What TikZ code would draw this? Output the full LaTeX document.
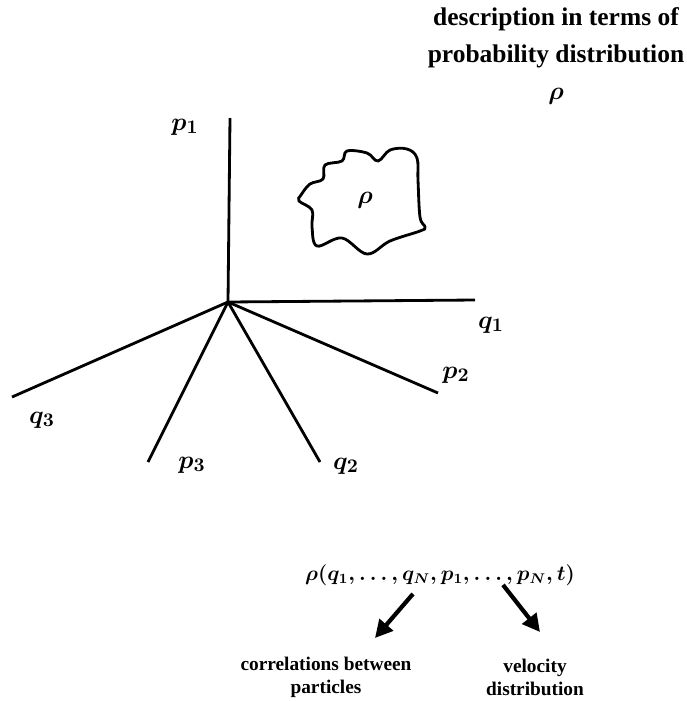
\documentclass[tikz,border=0pt]{standalone}
\usepackage{amsmath}
\usepackage{fontspec}
\setmainfont{Liberation Serif}
\usetikzlibrary{calc, arrows.meta}

\tikzset{
  axis/.style={line width=1.6pt},
  axislabel/.style={font=\fontsize{15}{15}\selectfont\boldmath, inner sep=1pt},
  bigarrow/.style={line width=2.4pt, -{Triangle[length=10pt,width=10pt]}},
  caption/.style={font=\bfseries\fontsize{11}{13}\selectfont, align=center, inner sep=0pt},
}

\begin{document}
\begin{tikzpicture}[x=0.02cm,y=-0.02cm]
\useasboundingbox (0,0) rectangle (687,701);

% heading
\node[font=\bfseries\boldmath\fontsize{14.5}{21.3}\selectfont, align=center, inner sep=0pt]
  (title) at (556,56) {description in terms of\\probability distribution\\$\rho$};

% phase space axes
\coordinate (O) at (228,302);
\foreach \name/\pos in {p1/{230,118}, q1/{475,300}, p2/{438,393},
                        q3/{12,397}, p3/{148,462}, q2/{320,462}} {
  \coordinate (\name) at (\pos);
  \draw[axis] (O) -- (\name);
}
\node[axislabel] (lp1) at (185,127) {$p_1$};
\node[axislabel] (lq1) at (491,325) {$q_1$};
\node[axislabel] (lp2) at (456,375) {$p_2$};
\node[axislabel] (lq3) at (42,420) {$q_3$};
\node[axislabel] (lp3) at (192,465) {$p_3$};
\node[axislabel] (lq2) at (346,466) {$q_2$};

% the cloud
\draw[line width=1.6pt] plot[smooth cycle, tension=0.6] coordinates {
  (301,195) (310,184) (323,179) (325,165) (342,161) (347,151) (367,153)
  (378,161) (390,150) (407,149) (417,158) (418,180) (420,217) (425,227)
  (420,231) (390,241) (367,254) (342,238) (317,246) (312,227) (312,210)
  (299,201)};
\node[axislabel] (rho) at (365,200) {$\rho$};

% distribution function and what it gives
\node[font=\fontsize{12}{12}\selectfont\boldmath, inner sep=0pt]
  (formula) at (440,575) {$\rho(q_1,\ldots,q_N,p_1,\ldots,p_N,t)$};
\node[caption] (corr) at (326,677) {correlations between\\particles};
\node[caption] (velo) at (535,677) {velocity\\distribution};

\coordinate (corrtip) at (375,638);
\coordinate (velotip) at (540,632);
\draw[bigarrow] ($(formula.south)+(-27,8)$) -- (corrtip);
\draw[bigarrow] ($(formula.south)+(63,-1)$) -- (velotip);
\end{tikzpicture}
\end{document}
